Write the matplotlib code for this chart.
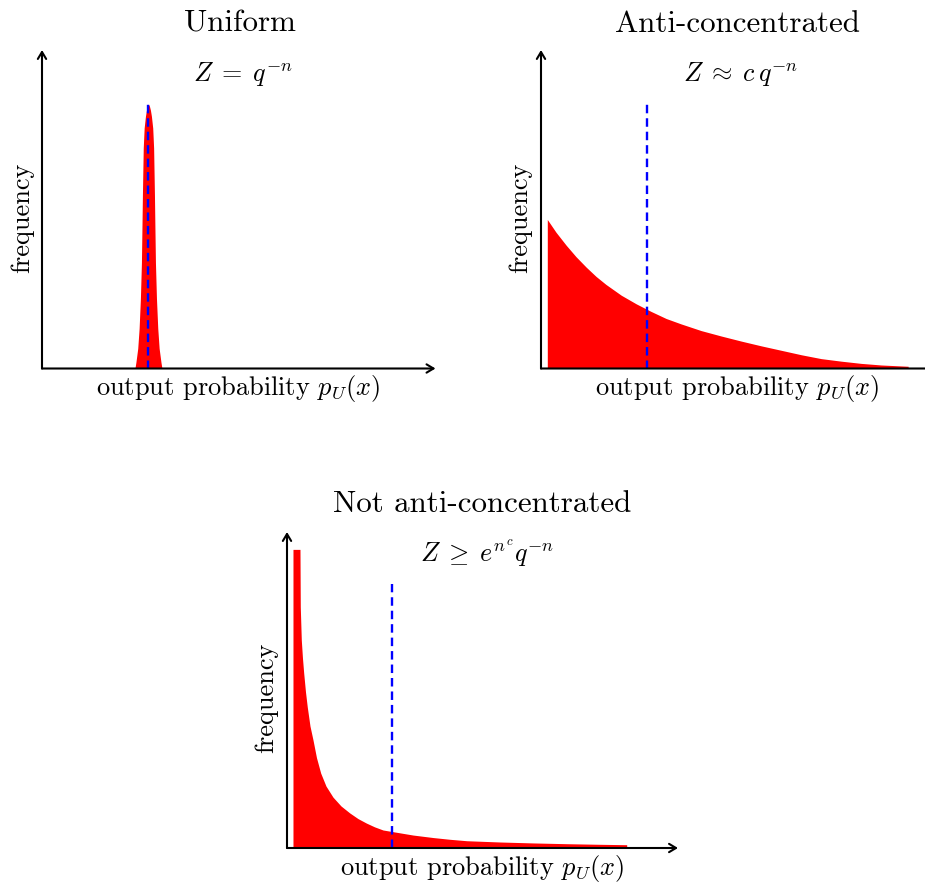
import matplotlib
matplotlib.use('Agg')
import matplotlib.pyplot as plt

#=================
# data (axis units: 0..1 along each arrow)
#=================
uniform_x = [0.2361, 0.2387, 0.2433, 0.2468, 0.2501, 0.2527, 0.2540, 0.2552, 0.2573, 0.2596,
             0.2629, 0.2654, 0.2680, 0.2705, 0.2730, 0.2756, 0.2781, 0.2814, 0.2837, 0.2858,
             0.2870, 0.2883, 0.2909, 0.2942, 0.2977, 0.3023, 0.3049]
uniform_y = [0.0, 0.020, 0.063, 0.126, 0.220, 0.333, 0.440, 0.544, 0.692, 0.755,
             0.792, 0.811, 0.824, 0.830, 0.824, 0.811, 0.792, 0.755, 0.692, 0.544,
             0.440, 0.333, 0.220, 0.126, 0.063, 0.020, 0.0]

anti_x = [0.016, 0.038, 0.064, 0.089, 0.115, 0.140, 0.165, 0.204, 0.242, 0.280,
          0.318, 0.356, 0.407, 0.458, 0.509, 0.560, 0.611, 0.662, 0.712, 0.763,
          0.814, 0.865, 0.933]
anti_y = [0.468, 0.428, 0.387, 0.351, 0.318, 0.289, 0.264, 0.230, 0.203, 0.179,
          0.157, 0.140, 0.119, 0.102, 0.086, 0.071, 0.057, 0.043, 0.031, 0.023,
          0.016, 0.011, 0.007]

notanti_x = [0.0153, 0.0332, 0.0340, 0.0366, 0.0396, 0.0427, 0.0473, 0.0519, 0.0588, 0.0665,
             0.0754, 0.0862, 0.0997, 0.1176, 0.1381, 0.1604, 0.1816, 0.2028, 0.2238, 0.2455,
             0.2693, 0.3223, 0.3742, 0.4169, 0.4596, 0.5448, 0.6299, 0.7153, 0.8005, 0.8688]
notanti_y = [0.945, 0.945, 0.763, 0.658, 0.601, 0.554, 0.494, 0.446, 0.386, 0.342,
             0.286, 0.237, 0.196, 0.161, 0.133, 0.111, 0.093, 0.079, 0.067, 0.057,
             0.052, 0.041, 0.033, 0.0275, 0.023, 0.019, 0.016, 0.0136, 0.0117, 0.0104]

# position and height of the dashed Z marker in each panel
marker_x = [0.2705, 0.269, 0.2685]
marker_top = [0.83, 0.833, 0.835]

titles = ['Uniform', 'Anti-concentrated', 'Not anti-concentrated']
formulas = [r'$Z \;=\; q^{-n}$', r'$Z \;\approx\; c\,q^{-n}$', r'$Z \;\geq\; e^{n^c} q^{-n}$']
xlabel = r'output probability $p_U(x)$'
ylabel = 'frequency'

#=================
# style
#=================
plt.rcParams['font.family'] = 'serif'
plt.rcParams['font.serif'] = ['cmr10']
plt.rcParams['mathtext.fontset'] = 'cm'
plt.rcParams['axes.unicode_minus'] = False

W, H = 925, 884
fig = plt.figure(figsize=(W / 100, H / 100), dpi=100)


def px_axes(x0, y0, x1, y1, xreach=1.0):
    # origin (x0, y0) and arrow tips (x1, y1) in pixels
    ax = fig.add_axes([x0 / W, 1 - y0 / H, (x1 - x0) / W, (y0 - y1) / H])
    ax.set_xlim(0, 1)
    ax.set_ylim(0, 1)
    ax.axis('off')
    for tip in [(xreach, 0), (0, 1)]:
        ax.annotate('', xy=tip, xytext=(0, 0), xycoords='axes fraction',
                    arrowprops=dict(arrowstyle='->,head_length=0.5,head_width=0.3',
                                    lw=1.5, color='black', shrinkA=0, shrinkB=0),
                    annotation_clip=False)
    return ax


def px_text(x, y, s, **kw):
    fig.text(x / W, 1 - y / H, s, **kw)


panels = [
    # origin x, origin y, tip x, tip y
    (42, 368.5, 435.5, 50),
    (541, 368.5, 934.5, 50),
    (287, 848, 678, 532),
]
x_reach = [1.0, 1.05, 1.0]
curves = [(uniform_x, uniform_y), (anti_x, anti_y), (notanti_x, notanti_y)]
title_pos = [(240, 31.5), (737, 31.5), (482.5, 512)]
formula_pos = [(243, 81.5), (741, 81.5), (487, 563)]
xlabel_pos = [(238.5, 395), (737, 395), (482.5, 875)]
ylabel_pos = [(22.5, 217.5), (520.5, 217.5), (266.5, 697.5)]

for i, (x0, y0, x1, y1) in enumerate(panels):
    ax = px_axes(x0, y0, x1, y1, x_reach[i])
    cx, cy = curves[i]
    ax.fill_between(cx, 0, cy, color='#ff0000', lw=0, zorder=1)
    ax.plot([marker_x[i], marker_x[i]], [0, marker_top[i]], color='#0000ff',
            lw=1.7, linestyle=(0, (3.6, 2.1)), zorder=2)

    px_text(*title_pos[i], titles[i], ha='center', va='baseline', fontsize=22.3)
    px_text(*formula_pos[i], formulas[i], ha='center', va='baseline', fontsize=18.8)
    px_text(*xlabel_pos[i], xlabel, ha='center', va='baseline', fontsize=19)
    px_text(*ylabel_pos[i], ylabel, ha='center', va='center', rotation=90, fontsize=19)

fig.savefig('out.png', dpi=100)
